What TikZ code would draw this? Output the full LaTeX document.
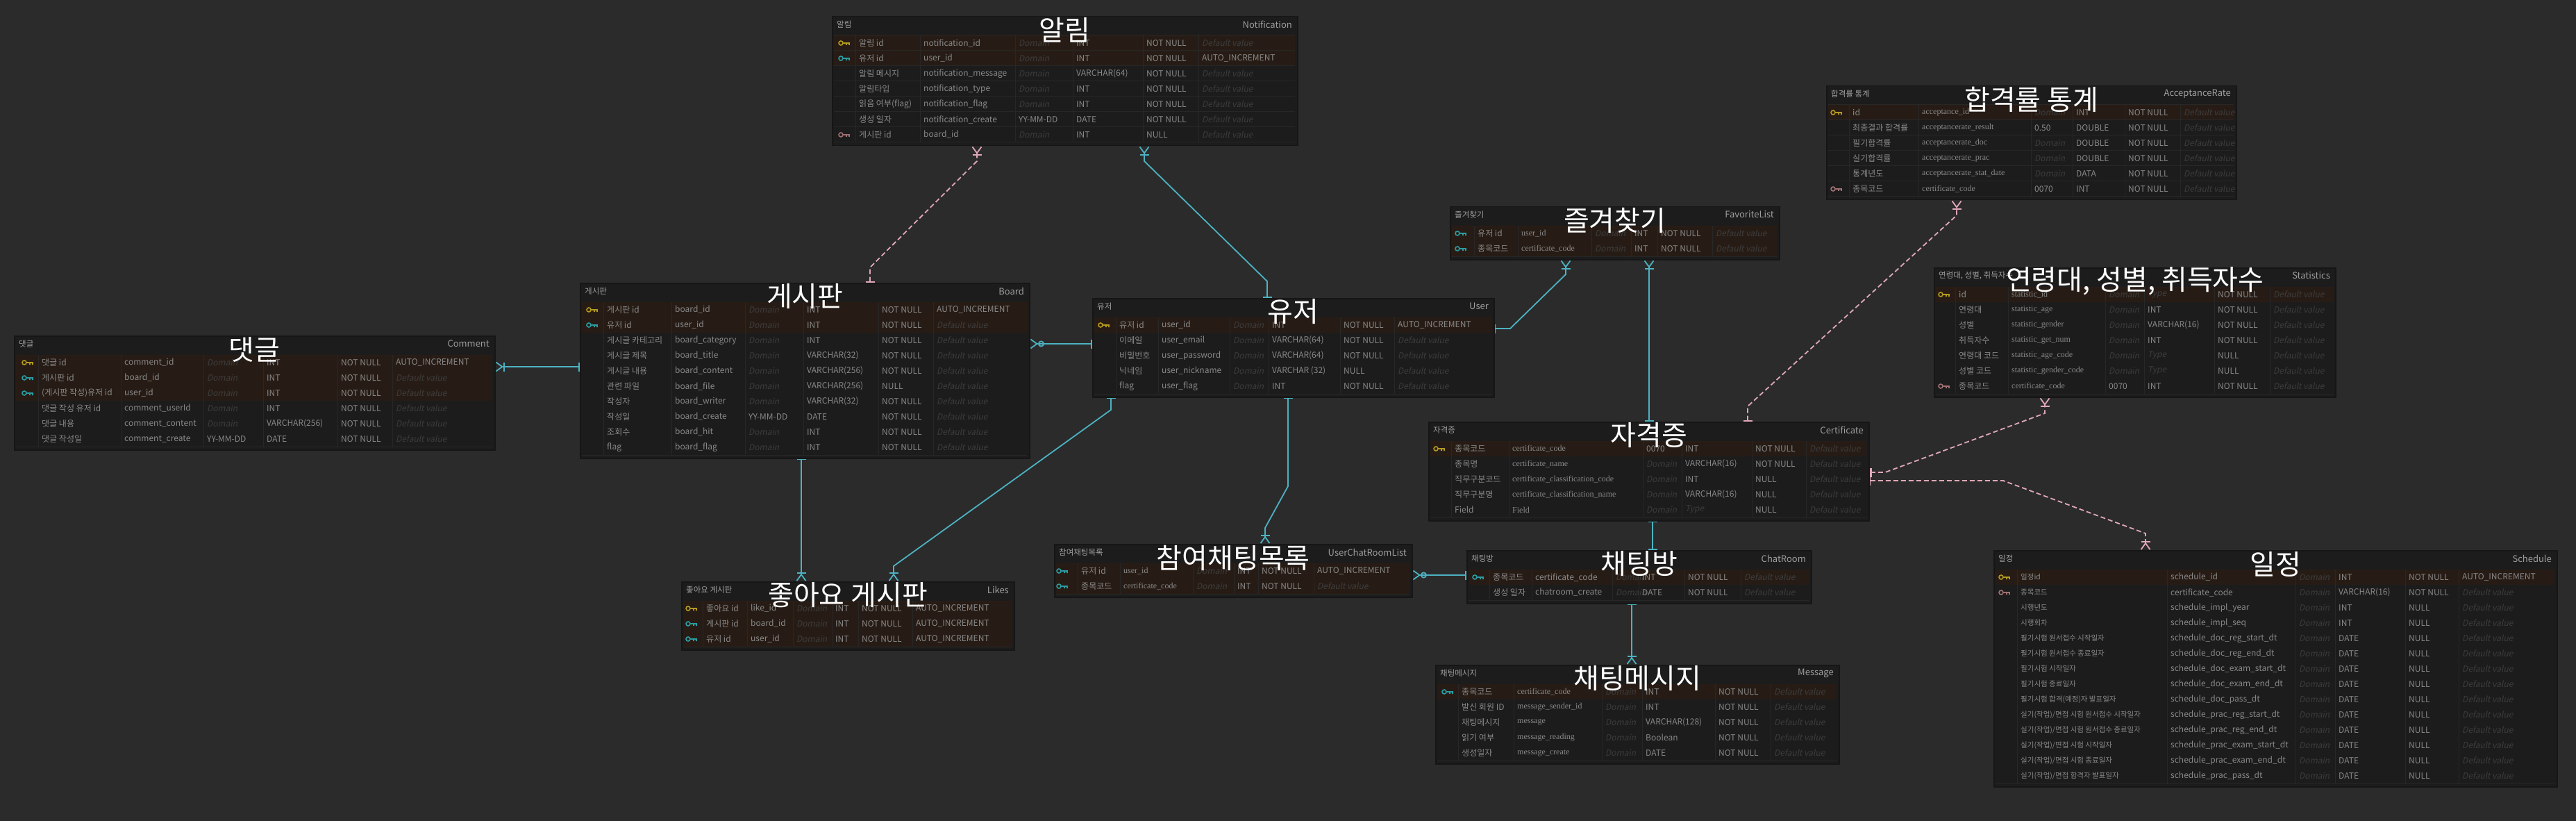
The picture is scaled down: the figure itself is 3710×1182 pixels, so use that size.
\documentclass[tikz,border=0pt]{standalone}
\usepackage{fontspec}
\setmainfont{Noto Sans CJK KR}[AutoFakeSlant=0.2]
\newfontfamily\serifcol{Liberation Serif}[AutoFakeSlant=0.2]
\usetikzlibrary{arrows.meta,calc}

\definecolor{canvas}{HTML}{2B2B2B}
\definecolor{tablefill}{HTML}{1C1C1C}
\definecolor{tableedge}{HTML}{161616}
\definecolor{tablegrid}{HTML}{272727}
\definecolor{headtext}{HTML}{9E9E9E}
\definecolor{celltext}{HTML}{888888}
\definecolor{dimtext}{HTML}{3C3C3C}
\definecolor{relteal}{HTML}{4DB2C2}
\definecolor{relpink}{HTML}{E0A8B8}
% row backgrounds and key colours, picked by the key kind (pk, fk, rk, no)
\definecolor{bgpk}{HTML}{271C15}
\definecolor{bgfk}{HTML}{271C15}
\definecolor{bgrk}{HTML}{1C1C1C}
\definecolor{bgno}{HTML}{1C1C1C}
\definecolor{kpk}{HTML}{B39A1E}
\definecolor{kfk}{HTML}{2A9CA3}
\definecolor{krk}{HTML}{9E6F72}
\definecolor{kno}{HTML}{1C1C1C}

\newcommand{\nodom}{\textcolor{dimtext}{\itshape Domain}}
\newcommand{\nodef}{\textcolor{dimtext}{\itshape Default value}}
\newcommand{\notype}{\textcolor{dimtext}{\itshape Type}}
\def\korfont{\relax}
\def\engfont{\relax}

% key x, korean x, then the five column separators
\newcommand{\setcols}[7]{\def\colK{#1}\def\colKr{#2}\def\colA{#3}\def\colB{#4}\def\colC{#5}\def\colD{#6}\def\colE{#7}}

% name, width, rows, korean head, english head
\newcommand{\erdtable}[5]{%
  \pgfmathsetmacro{\tabh}{32+22*#3}
  \node[tablebox, minimum width=#2, minimum height=\tabh] (#1) at (0,0) {};
  \node[headkr] (#1-kr) at (7,12) {#4};
  \node[headen] (#1-en) at (#2-7,12) {#5};
  \draw[gridline] (3,28) -- (#2-3,28);
}

% one row, from the loop variables
\newcommand{\tablerow}[2]{%
  \pgfmathsetmacro{\rowtop}{28+22*(\ri-1)}%
  \pgfmathsetmacro{\rowmid}{\rowtop+11}%
  \fill[fill=bg\kk] (3,\rowtop) rectangle (#2-3,\rowtop+22);
  \draw[gridline] (3,\rowtop+22) -- (#2-3,\rowtop+22);
  \draw[keyicon, draw=k\kk] (\colK-4,\rowmid) circle (3) (\colK-1,\rowmid) -- (\colK+8,\rowmid) -- (\colK+8,\rowmid+3) (\colK+4,\rowmid) -- (\colK+4,\rowmid+3);
  \node[cell] (#1-\ri-kr) at (\colKr,\rowmid) {\korfont\kr};
  \node[cell] (#1-\ri-en) at (\colA+5,\rowmid) {\engfont\en};
  \node[cell] (#1-\ri-dm) at (\colB+5,\rowmid) {\dm};
  \node[cell] (#1-\ri-ty) at (\colC+5,\rowmid) {\ty};
  \node[cell] (#1-\ri-nl) at (\colD+5,\rowmid) {\nl};
  \node[cell] (#1-\ri-df) at (\colE+5,\rowmid) {\df};
}

% column separators: width, rows
\newcommand{\tablegrid}[2]{%
  \foreach \sx in {\colKr-5,\colA,\colB,\colC,\colD,\colE}
    \draw[gridline] (\sx,28) -- (\sx,28+22*#2);
}

\tikzset{
  tablebox/.style={fill=tablefill, draw=tableedge, line width=1.5, inner sep=0, anchor=north west},
  gridline/.style={draw=tablegrid, line width=1},
  headkr/.style={anchor=west, inner sep=0, text=headtext, font=\fontsize{11.5}{13}\selectfont},
  headen/.style={anchor=east, inner sep=0, text=headtext, font=\fontsize{13}{15}\selectfont},
  cell/.style={anchor=west, inner sep=0, text=celltext, font=\fontsize{12}{14}\selectfont},
  bigtitle/.style={inner sep=0, text=white, font=\fontsize{40}{40}\selectfont},
  keyicon/.style={line width=1.6},
  tealrel/.style={draw=relteal, line width=1.8},
  pinkrel/.style={draw=relpink, line width=1.8, dash pattern=on 7pt off 4pt},
  one/.tip={Bar[width=13pt,line width=1.8pt]},
  onlyone/.tip={Bar[width=13pt,line width=1.8pt] Bar[width=13pt,line width=1.8pt]},
  many/.tip={Bar[width=13pt,line width=1.8pt] Straight Barb[reversed,length=9pt,width=13pt,line width=1.8pt]},
  anymany/.tip={Circle[open,length=9pt,width=9pt,line width=1.8pt] Straight Barb[reversed,length=9pt,width=13pt,line width=1.8pt]},
}

\begin{document}
\begin{tikzpicture}[x=1pt,y=-1pt]
\useasboundingbox (0,0) rectangle (3710,1182);
\fill[canvas] (0,0) rectangle (3710,1182);

%% Comment
\setcols{19}{40}{154}{273}{359}{466}{545}
\begin{scope}[shift={(20,483)}]
  \erdtable{comment}{692}{6}{댓글}{Comment}
  \foreach \kk/\kr/\en/\dm/\ty/\nl/\df [count=\ri] in {
    pk/댓글 id/comment\_id/\nodom/INT/NOT NULL/AUTO\_INCREMENT,
    fk/게시판 id/board\_id/\nodom/INT/NOT NULL/\nodef,
    fk/(게시판 작성)유저 id/user\_id/\nodom/INT/NOT NULL/\nodef,
    no/댓글 작성 유저 id/comment\_userId/\nodom/INT/NOT NULL/\nodef,
    no/댓글 내용/comment\_content/\nodom/VARCHAR(256)/NOT NULL/\nodef,
    no/댓글 작성일/comment\_create/YY-MM-DD/DATE/NOT NULL/\nodef}
    {\tablerow{comment}{692}}
  \tablegrid{692}{6}
\end{scope}
\node[bigtitle] (comment-title) at ($(comment.north)+(0,20)$) {댓글};

%% Board
\setcols{17}{39}{132}{238}{322}{430}{509}
\begin{scope}[shift={(835,407)}]
  \erdtable{board}{647}{10}{게시판}{Board}
  \foreach \kk/\kr/\en/\dm/\ty/\nl/\df [count=\ri] in {
    pk/게시판 id/board\_id/\nodom/INT/NOT NULL/AUTO\_INCREMENT,
    fk/유저 id/user\_id/\nodom/INT/NOT NULL/\nodef,
    no/게시글 카테고리/board\_category/\nodom/INT/NOT NULL/\nodef,
    no/게시글 제목/board\_title/\nodom/VARCHAR(32)/NOT NULL/\nodef,
    no/게시글 내용/board\_content/\nodom/VARCHAR(256)/NOT NULL/\nodef,
    no/관련 파일/board\_file/\nodom/VARCHAR(256)/NULL/\nodef,
    no/작성자/board\_writer/\nodom/VARCHAR(32)/NOT NULL/\nodef,
    no/작성일/board\_create/YY-MM-DD/DATE/NOT NULL/\nodef,
    no/조회수/board\_hit/\nodom/INT/NOT NULL/\nodef,
    no/flag/board\_flag/\nodom/INT/NOT NULL/\nodef}
    {\tablerow{board}{647}}
  \tablegrid{647}{10}
\end{scope}
\node[bigtitle] (board-title) at ($(board.north)+(0,20)$) {게시판};

%% Notification
\setcols{17}{39}{127}{264}{347}{448}{528}
\begin{scope}[shift={(1198,23)}]
  \erdtable{notification}{670}{7}{알림}{Notification}
  \foreach \kk/\kr/\en/\dm/\ty/\nl/\df [count=\ri] in {
    pk/알림 id/notification\_id/\nodom/INT/NOT NULL/\nodef,
    fk/유저 id/user\_id/\nodom/INT/NOT NULL/AUTO\_INCREMENT,
    no/알림 메시지/notification\_message/\nodom/VARCHAR(64)/NOT NULL/\nodef,
    no/알림타입/notification\_type/\nodom/INT/NOT NULL/\nodef,
    no/읽음 여부(flag)/notification\_flag/\nodom/INT/NOT NULL/\nodef,
    no/생성 일자/notification\_create/YY-MM-DD/DATE/NOT NULL/\nodef,
    rk/게시판 id/board\_id/\nodom/INT/NULL/\nodef}
    {\tablerow{notification}{670}}
  \tablegrid{670}{7}
\end{scope}
\node[bigtitle] (notification-title) at ($(notification.north)+(0,20)$) {알림};

%% User
\setcols{16}{39}{95}{198}{254}{357}{435}
\begin{scope}[shift={(1573,429)}]
  \erdtable{user}{578}{5}{유저}{User}
  \foreach \kk/\kr/\en/\dm/\ty/\nl/\df [count=\ri] in {
    pk/유저 id/user\_id/\nodom/INT/NOT NULL/AUTO\_INCREMENT,
    no/이메일/user\_email/\nodom/VARCHAR(64)/NOT NULL/\nodef,
    no/비밀번호/user\_password/\nodom/VARCHAR(64)/NOT NULL/\nodef,
    no/닉네임/user\_nickname/\nodom/VARCHAR (32)/NULL/\nodef,
    no/flag/user\_flag/\nodom/INT/NOT NULL/\nodef}
    {\tablerow{user}{578}}
  \tablegrid{578}{5}
\end{scope}
\node[bigtitle] (user-title) at ($(user.north)+(0,20)$) {유저};

%% Likes
\setcols{14}{36}{95}{161}{217}{255}{333}
\begin{scope}[shift={(981,837)}]
  \erdtable{likes}{479}{3}{좋아요 게시판}{Likes}
  \foreach \kk/\kr/\en/\dm/\ty/\nl/\df [count=\ri] in {
    pk/좋아요 id/like\_id/\nodom/INT/NOT NULL/AUTO\_INCREMENT,
    fk/게시판 id/board\_id/\nodom/INT/NOT NULL/AUTO\_INCREMENT,
    fk/유저 id/user\_id/\nodom/INT/NOT NULL/AUTO\_INCREMENT}
    {\tablerow{likes}{479}}
  \tablegrid{479}{3}
\end{scope}
\node[bigtitle] (likes-title) at ($(likes.north)+(0,20)$) {좋아요 게시판};

%% UserChatRoomList
\def\engfont{\serifcol}
\setcols{11}{39}{95}{200}{259}{294}{374}
\begin{scope}[shift={(1518,783)}]
  \erdtable{roomlist}{515}{2}{참여채팅목록}{UserChatRoomList}
  \foreach \kk/\kr/\en/\dm/\ty/\nl/\df [count=\ri] in {
    fk/유저 id/user\_id/\nodom/INT/NOT NULL/AUTO\_INCREMENT,
    fk/종목코드/certificate\_code/\nodom/INT/NOT NULL/\nodef}
    {\tablerow{roomlist}{515}}
  \tablegrid{515}{2}
\end{scope}
\node[bigtitle] (roomlist-title) at ($(roomlist.north)+(0,20)$) {참여채팅목록};

%% FavoriteList
\setcols{15}{40}{98}{204}{261}{299}{378}
\begin{scope}[shift={(2088,297)}]
  \erdtable{favorite}{474}{2}{즐겨찾기}{FavoriteList}
  \foreach \kk/\kr/\en/\dm/\ty/\nl/\df [count=\ri] in {
    fk/유저 id/user\_id/\nodom/INT/NOT NULL/\nodef,
    fk/종목코드/certificate\_code/\nodom/INT/NOT NULL/\nodef}
    {\tablerow{favorite}{474}}
  \tablegrid{474}{2}
\end{scope}
\node[bigtitle] (favorite-title) at ($(favorite.north)+(0,20)$) {즐겨찾기};

%% AcceptanceRate
\setcols{14}{38}{133}{295}{355}{430}{510}
\begin{scope}[shift={(2630,123)}]
  \erdtable{acceptance}{590}{6}{합격률 통계}{AcceptanceRate}
  \foreach \kk/\kr/\en/\dm/\ty/\nl/\df [count=\ri] in {
    pk/id/acceptance\_id/\nodom/INT/NOT NULL/\nodef,
    no/최종결과 합격률/acceptancerate\_result/0.50/DOUBLE/NOT NULL/\nodef,
    no/필기합격률/acceptancerate\_doc/\nodom/DOUBLE/NOT NULL/\nodef,
    no/실기합격률/acceptancerate\_prac/\nodom/DOUBLE/NOT NULL/\nodef,
    no/통계년도/acceptancerate\_stat\_date/\nodom/DATA/NOT NULL/\nodef,
    rk/종목코드/certificate\_code/0070/INT/NOT NULL/\nodef}
    {\tablerow{acceptance}{590}}
  \tablegrid{590}{6}
\end{scope}
\node[bigtitle] (acceptance-title) at ($(acceptance.north)+(0,20)$) {합격률 통계};

%% Statistics
\setcols{14}{36}{107}{247}{303}{404}{484}
\begin{scope}[shift={(2785,385)}]
  \erdtable{statistics}{578}{7}{연령대, 성별, 취득자수}{Statistics}
  \foreach \kk/\kr/\en/\dm/\ty/\nl/\df [count=\ri] in {
    pk/id/statistic\_id/\nodom/\notype/NOT NULL/\nodef,
    no/연령대/statistic\_age/\nodom/INT/NOT NULL/\nodef,
    no/성별/statistic\_gender/\nodom/VARCHAR(16)/NOT NULL/\nodef,
    no/취득자수/statistic\_get\_num/\nodom/INT/NOT NULL/\nodef,
    no/연령대 코드/statistic\_age\_code/\nodom/\notype/NULL/\nodef,
    no/성별 코드/statistic\_gender\_code/\nodom/\notype/NULL/\nodef,
    rk/종목코드/certificate\_code/0070/INT/NOT NULL/\nodef}
    {\tablerow{statistics}{578}}
  \tablegrid{578}{7}
\end{scope}
\node[bigtitle] (statistics-title) at ($(statistics.north)+(0,20)$) {연령대, 성별, 취득자수};

%% Certificate
\setcols{15}{38}{116}{309}{365}{466}{544}
\begin{scope}[shift={(2057,607)}]
  \erdtable{certificate}{634}{5}{자격증}{Certificate}
  \foreach \kk/\kr/\en/\dm/\ty/\nl/\df [count=\ri] in {
    pk/종목코드/certificate\_code/0070/INT/NOT NULL/\nodef,
    no/종목명/certificate\_name/\nodom/VARCHAR(16)/NOT NULL/\nodef,
    no/직무구분코드/certificate\_classification\_code/\nodom/INT/NULL/\nodef,
    no/직무구분명/certificate\_classification\_name/\nodom/VARCHAR(16)/NULL/\nodef,
    no/Field/Field/\nodom/\notype/NULL/\nodef}
    {\tablerow{certificate}{634}}
  \tablegrid{634}{5}
\end{scope}
\node[bigtitle] (certificate-title) at ($(certificate.north)+(0,20)$) {자격증};

%% ChatRoom
\def\engfont{\relax}
\setcols{16}{38}{94}{210}{248}{314}{395}
\begin{scope}[shift={(2112,792)}]
  \erdtable{chatroom}{496}{2}{채팅방}{ChatRoom}
  \foreach \kk/\kr/\en/\dm/\ty/\nl/\df [count=\ri] in {
    fk/종목코드/certificate\_code/\nodom/INT/NOT NULL/\nodef,
    no/생성 일자/chatroom\_create/\nodom/DATE/NOT NULL/\nodef}
    {\tablerow{chatroom}{496}}
  \tablegrid{496}{2}
\end{scope}
\node[bigtitle] (chatroom-title) at ($(chatroom.north)+(0,20)$) {채팅방};

%% Message
\def\engfont{\serifcol}
\setcols{17}{38}{113}{240}{298}{403}{483}
\begin{scope}[shift={(2067,957)}]
  \erdtable{message}{581}{5}{채팅메시지}{Message}
  \foreach \kk/\kr/\en/\dm/\ty/\nl/\df [count=\ri] in {
    fk/종목코드/certificate\_code/\nodom/INT/NOT NULL/\nodef,
    no/발신 회원 ID/message\_sender\_id/\nodom/INT/NOT NULL/\nodef,
    no/채팅메시지/message/\nodom/VARCHAR(128)/NOT NULL/\nodef,
    no/읽기 여부/message\_reading/\nodom/Boolean/NOT NULL/\nodef,
    no/생성일자/message\_create/\nodom/DATE/NOT NULL/\nodef}
    {\tablerow{message}{581}}
  \tablegrid{581}{5}
\end{scope}
\node[bigtitle] (message-title) at ($(message.north)+(0,20)$) {채팅메시지};

%% Schedule
\def\engfont{\relax}
\def\korfont{\fontsize{10.5}{12}\selectfont}
\setcols{15}{39}{250}{435}{492}{593}{670}
\begin{scope}[shift={(2871,792)}]
  \erdtable{schedule}{811}{14}{일정}{Schedule}
  \foreach \kk/\kr/\en/\dm/\ty/\nl/\df [count=\ri] in {
    pk/일정id/schedule\_id/\nodom/INT/NOT NULL/AUTO\_INCREMENT,
    rk/종목코드/certificate\_code/\nodom/VARCHAR(16)/NOT NULL/\nodef,
    no/시행년도/schedule\_impl\_year/\nodom/INT/NULL/\nodef,
    no/시행회차/schedule\_impl\_seq/\nodom/INT/NULL/\nodef,
    no/필기시험 원서접수 시작일자/schedule\_doc\_reg\_start\_dt/\nodom/DATE/NULL/\nodef,
    no/필기시험 원서접수 종료일자/schedule\_doc\_reg\_end\_dt/\nodom/DATE/NULL/\nodef,
    no/필기시험 시작일자/schedule\_doc\_exam\_start\_dt/\nodom/DATE/NULL/\nodef,
    no/필기시험 종료일자/schedule\_doc\_exam\_end\_dt/\nodom/DATE/NULL/\nodef,
    no/필기시험 합격(예정)자 발표일자/schedule\_doc\_pass\_dt/\nodom/DATE/NULL/\nodef,
    no/{실기(작업)/면접 시험 원서접수 시작일자}/schedule\_prac\_reg\_start\_dt/\nodom/DATE/NULL/\nodef,
    no/{실기(작업)/면접 시험 원서접수 종료일자}/schedule\_prac\_reg\_end\_dt/\nodom/DATE/NULL/\nodef,
    no/{실기(작업)/면접 시험 시작일자}/schedule\_prac\_exam\_start\_dt/\nodom/DATE/NULL/\nodef,
    no/{실기(작업)/면접 시험 종료일자}/schedule\_prac\_exam\_end\_dt/\nodom/DATE/NULL/\nodef,
    no/{실기(작업)/면접 합격자 발표일자}/schedule\_prac\_pass\_dt/\nodom/DATE/NULL/\nodef}
    {\tablerow{schedule}{811}}
  \tablegrid{811}{14}
\end{scope}
\node[bigtitle] (schedule-title) at ($(schedule.north)+(0,20)$) {일정};

%% relations, drawn from the one side to the many side
\draw[pinkrel, {one}-{many}] (1253,0 |- board.north) -- (1253,385) -- (1407,232) -- (1407,0 |- notification.south);
\draw[tealrel, {one}-{many}] (1825,0 |- user.north) -- (1825,405) -- (1648,232) -- (1648,0 |- notification.south);
\draw[tealrel, {one}-{many}] (user.east |- 0,473) -- (2175,473) -- (2255,395) -- (2255,0 |- favorite.south);
\draw[tealrel, {one}-{many}] (2375,0 |- certificate.north) -- (2375,0 |- favorite.south);
\draw[pinkrel, {one}-{many}] (2517,0 |- certificate.north) -- (2517,585) -- (2818,310) -- (2818,0 |- acceptance.south);
\draw[pinkrel, {onlyone}-{many}] (certificate.east |- 0,680) -- (2715,680) -- (2945,595) -- (2945,0 |- statistics.south);
\draw[pinkrel, {one}-{many}] (certificate.east |- 0,692) -- (2885,692) -- (3090,768) -- (3090,0 |- schedule.north);
\draw[tealrel, {one}-{one}] (2380,0 |- certificate.south) -- (2380,0 |- chatroom.north);
\draw[tealrel, {one}-{many}] (2350,0 |- chatroom.south) -- (2350,0 |- message.north);
\draw[tealrel, {one}-{anymany}] (chatroom.west |- 0,828) -- (roomlist.east |- 0,828);
\draw[tealrel, {one}-{many}] (1855,0 |- user.south) -- (1855,700) -- (1822,760) -- (1822,0 |- roomlist.north);
\draw[tealrel, {one}-{many}] (1154,0 |- board.south) -- (1154,0 |- likes.north);
\draw[tealrel, {one}-{many}] (1600,0 |- user.south) -- (1600,590) -- (1287,815) -- (1287,0 |- likes.north);
\draw[tealrel, {one}-{anymany}] (user.west |- 0,495) -- (board.east |- 0,495);
\draw[tealrel, {one}-{many}] (board.west |- 0,528) -- (comment.east |- 0,528);
\end{tikzpicture}
\end{document}
